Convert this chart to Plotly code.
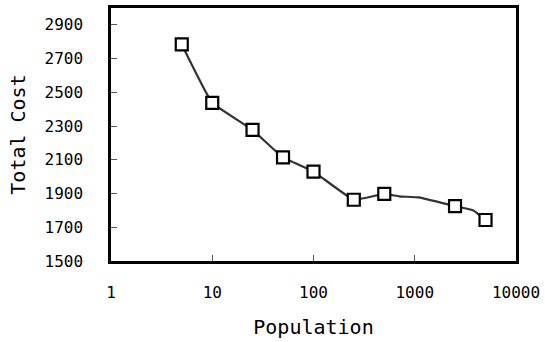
import plotly.graph_objects as go

# Marker data
population = [5, 10, 25, 50, 100, 250, 500, 2500, 5000]
total_cost = [2784, 2438, 2277, 2114, 2030, 1863, 1898, 1825, 1743]

# Line path (includes intermediate bends visible in the reference)
line_pop = [5, 10, 25, 50, 100, 250, 500, 700, 1100, 2500, 3800, 5000]
line_cost = [2784, 2438, 2277, 2114, 2030, 1863, 1898, 1883, 1877, 1825, 1800, 1743]

x_ticks = [1, 10, 100, 1000, 10000]
x_tick_text = ["1", "10", "100", "1000", "10000"]
y_ticks = [1500, 1700, 1900, 2100, 2300, 2500, 2700, 2900]

FONT = "DejaVu Sans Mono, monospace"

fig = go.Figure()
fig.add_trace(go.Scatter(
    x=line_pop, y=line_cost, mode="lines",
    line=dict(color="#333333", width=2.2, shape="spline", smoothing=0.3),
    hoverinfo="skip", showlegend=False))
fig.add_trace(go.Scatter(
    x=population, y=total_cost, mode="markers",
    marker=dict(symbol="square", size=12, color="white",
                line=dict(color="black", width=2.2)),
    showlegend=False))

fig.update_layout(
    width=545, height=342,
    margin=dict(l=111, r=27, t=5, b=81),
    paper_bgcolor="white", plot_bgcolor="white",
    font=dict(family=FONT, size=16, color="black"),
    xaxis=dict(
        type="log", range=[0, 4],
        tickvals=x_ticks, ticktext=x_tick_text,
        ticks="inside", ticklen=6, tickcolor="#555555", tickwidth=1,
        showgrid=False, zeroline=False,
        showline=True, linecolor="black", linewidth=2.5, mirror=True,
        ticklabelstandoff=15,
        title=dict(text="Population", font=dict(family=FONT, size=20), standoff=20),
    ),
    yaxis=dict(
        range=[1500, 3000],
        tickvals=y_ticks,
        ticks="inside", ticklen=6, tickcolor="#555555", tickwidth=1,
        showgrid=False, zeroline=False,
        showline=True, linecolor="black", linewidth=2.5, mirror=True,
        ticklabelstandoff=22,
        title=dict(text="Total Cost", font=dict(family=FONT, size=20), standoff=14),
    ),
)

fig.write_html("out.html")
